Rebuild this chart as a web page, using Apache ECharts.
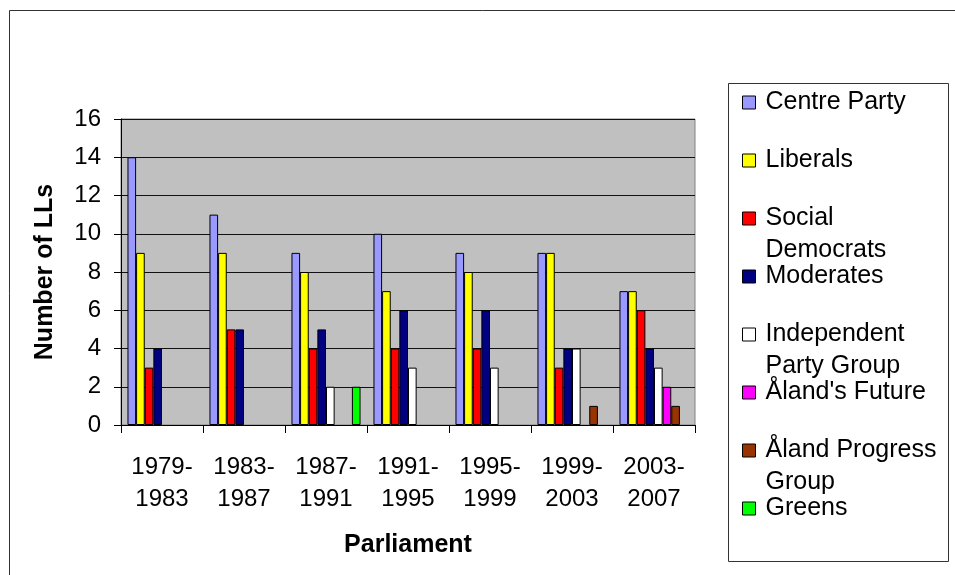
<!DOCTYPE html>
<html>

<head>
    <meta charset="utf-8">
    <title>Number of LLs by parliament</title>
    <script src="https://cdn.jsdelivr.net/npm/echarts@6/dist/echarts.min.js"></script>
</head>

<body style="margin:0;">
<div id="main" style="position:absolute;top:0;left:0;width:955px;height:575px;background:#fff;"></div>
<script type="text/javascript">

    // parliaments (categories)
    var parliaments = ['1979-1983', '1983-1987', '1987-1991', '1991-1995', '1995-1999', '1999-2003', '2003-2007'];

    // seats per party, null = no bar
    var centreParty = [14, 11, 9, 10, 9, 9, 7];
    var liberals = [9, 9, 8, 7, 8, 9, 7];
    var socialDemocrats = [3, 5, 4, 4, 4, 3, 6];
    var moderates = [4, 5, 5, 6, 6, 4, 4];
    var independentPartyGroup = [null, null, 2, 3, 3, 4, 3];
    var alandsFuture = [null, null, null, null, null, null, 2];
    var alandProgressGroup = [null, null, null, null, null, 1, 1];
    var greens = [null, null, 2, null, null, null, null];

    var partyNames = ['Centre Party', 'Liberals', 'Social Democrats', 'Moderates',
        'Independent Party Group', "Åland's Future", 'Åland Progress Group', 'Greens'];
    var legendLabels = ['Centre Party', 'Liberals', 'Social\nDemocrats', 'Moderates',
        'Independent\nParty Group', "Åland's Future", 'Åland Progress\nGroup', 'Greens'];
    var partyColors = ['#9999FF', '#FFFF00', '#FF0000', '#000080', '#FFFFFF', '#FF00FF', '#993300', '#00FF00'];
    var seats = [centreParty, liberals, socialDemocrats, moderates,
        independentPartyGroup, alandsFuture, alandProgressGroup, greens];

    // y-axis ticks
    var yMin = 0, yMax = 16, yStep = 2;

    var font = '"Liberation Sans", Arial, sans-serif';
    var myChart = echarts.init(document.getElementById('main'));

    // one legend per entry, so wrapped names keep Excel's even spacing.
    // wrapped names get a blank line on top so the swatch sits by the first line
    var legends = partyNames.map(function (name, i) {
        var twoLines = legendLabels[i].indexOf('\n') >= 0;
        var box = twoLines ? 96 : 32;
        var midY = 102.5 + 58 * i;
        return {
            data: [name],
            orient: 'vertical',
            left: 742,
            top: midY - box / 2,
            padding: 0,
            itemWidth: 13,
            itemHeight: 13,
            icon: 'rect',
            selectedMode: false,
            itemStyle: {borderColor: '#000', borderWidth: 1},
            formatter: function () {
                return twoLines ? ' \n' + legendLabels[i] : legendLabels[i];
            },
            textStyle: {
                fontFamily: font,
                fontSize: 25,
                lineHeight: 32,
                color: '#000',
                padding: [0, 0, 0, 5]
            }
        };
    });

    var series = partyNames.map(function (name, i) {
        return {
            name: name,
            type: 'bar',
            data: seats[i],
            barGap: '0%',
            barCategoryGap: '15.8%',
            itemStyle: {
                color: partyColors[i],
                borderColor: '#000',
                borderWidth: 1
            },
            emphasis: {disabled: true}
        };
    });

    myChart.setOption({
        animation: false,
        backgroundColor: '#fff',
        graphic: [
            {
                type: 'rect',
                shape: {x: 9.5, y: 10.5, width: 1000, height: 1000},
                style: {fill: 'none', stroke: '#333', lineWidth: 1},
                silent: true
            },
            {
                type: 'rect',
                shape: {x: 728.5, y: 83.5, width: 220, height: 478},
                style: {fill: 'none', stroke: '#333', lineWidth: 1},
                silent: true
            }
        ],
        legend: legends,
        grid: {
            left: 121,
            top: 119,
            right: 260,
            bottom: 150,
            show: true,
            backgroundColor: '#C0C0C0',
            borderColor: '#808080',
            borderWidth: 1
        },
        xAxis: {
            type: 'category',
            data: parliaments,
            name: 'Parliament',
            nameLocation: 'middle',
            nameGap: 108,
            nameTextStyle: {fontFamily: font, fontSize: 25, fontWeight: 'bold', color: '#000'},
            axisLine: {lineStyle: {color: '#000', width: 1}},
            axisTick: {show: true, length: 8, lineStyle: {color: '#000'}},
            axisLabel: {
                fontFamily: font,
                fontSize: 24,
                lineHeight: 32,
                color: '#000',
                margin: 26,
                interval: 0,
                formatter: function (v) {
                    return v.replace('-', '-\n');
                }
            }
        },
        yAxis: {
            type: 'value',
            min: yMin,
            max: yMax,
            interval: yStep,
            name: 'Number of LLs',
            nameLocation: 'middle',
            nameGap: 63,
            nameTextStyle: {fontFamily: font, fontSize: 25, fontWeight: 'bold', color: '#000'},
            axisLine: {show: true, lineStyle: {color: '#000', width: 1}},
            axisTick: {show: true, length: 7, lineStyle: {color: '#000'}},
            axisLabel: {fontFamily: font, fontSize: 24, color: '#000', margin: 20},
            splitLine: {show: true, lineStyle: {color: '#111', width: 1}}
        },
        series: series
    });
</script>
</body>

</html>
